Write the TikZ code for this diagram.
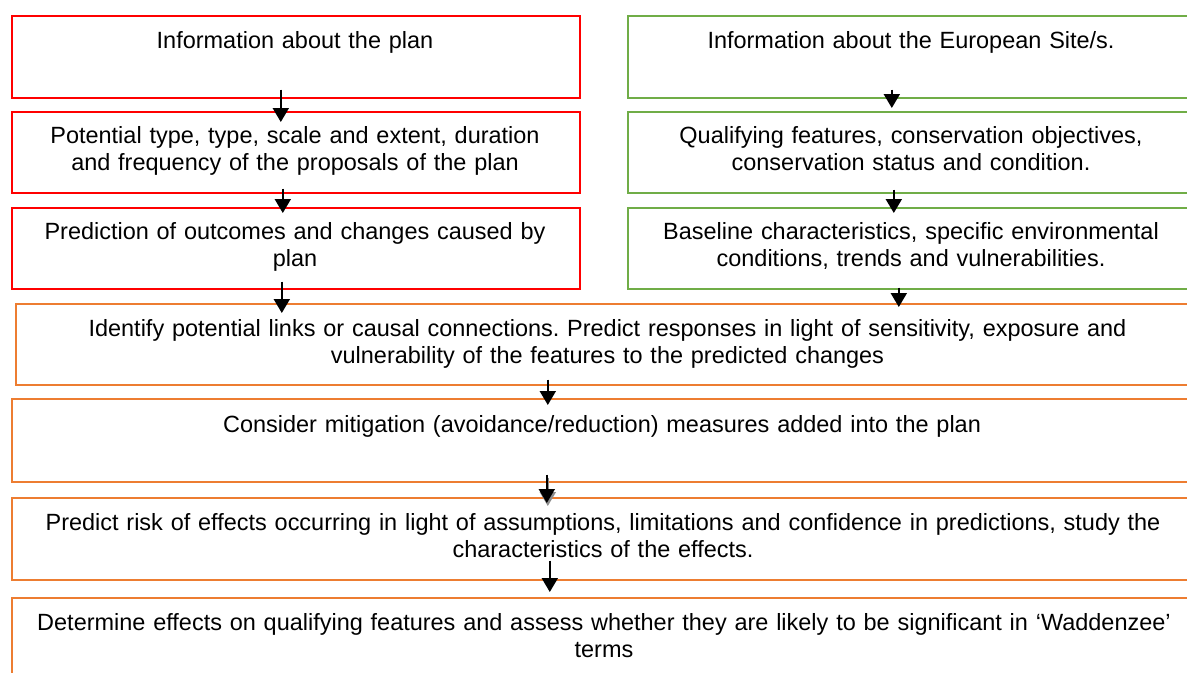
\documentclass[tikz,border=0pt]{standalone}
\usepackage{fontspec}
\setmainfont{Liberation Sans}
\usetikzlibrary{arrows.meta,calc}
\frenchspacing
\newdimen\px \px=0.75pt
\definecolor{boxred}{HTML}{FF0000}
\definecolor{boxgreen}{HTML}{70AD47}
\definecolor{boxorange}{HTML}{ED7D31}
\tikzset{
  box/.style={draw, line width=1.2pt, inner sep=0pt, anchor=north west},
  redbox/.style={box, draw=boxred},
  greenbox/.style={box, draw=boxgreen},
  orangebox/.style={box, draw=boxorange},
  txt/.style={inner sep=0pt, anchor=base, align=center, text width=1175\px,
    font=\fontsize{17.6pt}{20.25pt}\selectfont},
  arr/.style={line width=1.5pt, -{Triangle[width=12pt,length=10.5pt]}},
}
\begin{document}
\begin{tikzpicture}[x=0.75pt,y=-0.75pt]
\clip (0,0) rectangle (1187,672);
\fill[white] (0,0) rectangle (1187,672);
% left column (plan)
\node[redbox, minimum width=568\px, minimum height=82\px] (r1) at (11,15) {};
\node[redbox, minimum width=568\px, minimum height=81\px] (r2) at (11,111) {};
\node[redbox, minimum width=568\px, minimum height=81\px] (r3) at (11,207) {};
% right column (site)
\node[greenbox, minimum width=568\px, minimum height=82\px] (g1) at (627,15) {};
\node[greenbox, minimum width=568\px, minimum height=81\px] (g2) at (627,111) {};
\node[greenbox, minimum width=568\px, minimum height=81\px] (g3) at (627,207) {};
% full width steps
\node[orangebox, minimum width=1185\px, minimum height=81\px] (o4) at (15,303) {};
\node[orangebox, minimum width=1186\px, minimum height=83\px] (o5) at (11,398) {};
\node[orangebox, minimum width=1186\px, minimum height=82\px] (o6) at (11,497) {};
\node[orangebox, minimum width=1186\px, minimum height=110\px] (o7) at (11,597) {};
% texts
\node[txt] (tr1) at (295,48) {Information about the plan};
\node[txt] (tr2) at (295,143) {Potential type, type, scale and extent, duration\\and frequency of the proposals of the plan};
\node[txt] (tr3) at (295,239) {Prediction of outcomes and changes caused by\\plan};
\node[txt] (tg1) at (911,48) {Information about the European Site/s.};
\node[txt] (tg2) at (911,143) {Qualifying features, conservation objectives,\\conservation status and condition.};
\node[txt] (tg3) at (911,239) {Baseline characteristics, specific environmental\\conditions, trends and vulnerabilities.};
\node[txt] (to4) at (607.5,336) {Identify potential links or causal connections. Predict responses in light of sensitivity, exposure and\\vulnerability of the features to the predicted changes};
\node[txt] (to5) at (602,432) {Consider mitigation (avoidance/reduction) measures added into the plan};
\node[txt] (to6) at (603,530) {Predict risk of effects occurring in light of assumptions, limitations and confidence in predictions, study the\\characteristics of the effects.};
\node[txt] (to7) at (604,630) {Determine effects on qualifying features and assess whether they are likely to be significant in ‘Waddenzee’\\terms};
% arrows
\draw[arr] ($(r1.south)+(-15,-9)$) -- ($(r2.north)+(-15,11)$);
\draw[arr] ($(r2.south)+(-13,-5)$) -- ($(r3.north)+(-13,6)$);
\draw[arr] ($(r3.south)+(-14,-8)$) -- ($(r3.south |- o4.north)+(-14,10)$);
\draw[arr] ($(g1.south)+(-20,-9)$) -- ($(g2.north)+(-20,-3)$);
\draw[arr] ($(g2.south)+(-18,-4)$) -- ($(g3.north)+(-18,6)$);
\draw[arr] ($(g3.south)+(-13,-2)$) -- ($(g3.south |- o4.north)+(-13,4)$);
\draw[arr] ($(o4.south)+(-60.5,-6)$) -- ($(o5.north)+(-57,7)$);
\draw[arr, draw=black!45, fill=black!45] ($(o5.south)+(-57,-5)$) -- ($(o6.north)+(-57,9)$);
\draw[arr] ($(o5.south)+(-58,-8)$) -- ($(o6.north)+(-58,6)$);
\draw[arr] ($(o6.south)+(-55,-20)$) -- ($(o7.north)+(-55,-5)$);
\end{tikzpicture}
\end{document}
